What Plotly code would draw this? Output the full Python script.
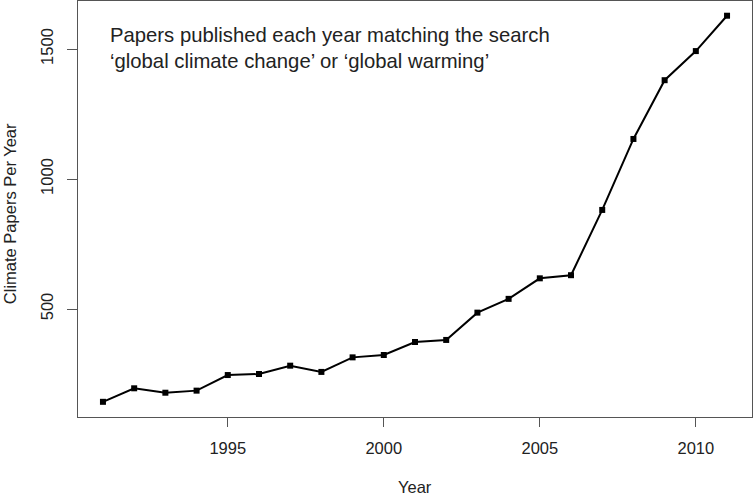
import plotly.graph_objects as go

years = list(range(1991, 2012))
papers = [143, 195, 178, 186, 246, 250, 282, 258, 314, 323, 373, 381,
          486, 539, 618, 630, 881, 1154, 1380, 1492, 1628]
x_ticks = [1995, 2000, 2005, 2010]
y_ticks = [500, 1000, 1500]

txt = "#222222"
axc = "#555555"
font = "Liberation Sans, Arial, sans-serif"

fig = go.Figure()
fig.add_trace(go.Scatter(
    x=years, y=papers, mode="lines+markers",
    line=dict(color="black", width=2),
    marker=dict(symbol="square", size=6, color="black"),
    showlegend=False,
))

fig.update_layout(
    width=754, height=501,
    margin=dict(l=78, r=2, t=1, b=84, pad=0, autoexpand=False),
    paper_bgcolor="white", plot_bgcolor="white",
    font=dict(family=font, color=txt, size=16),
    xaxis=dict(
        range=[1990.2, 2011.8], tickvals=x_ticks, ticks="outside", ticklen=9,
        tickcolor=axc, showline=True, linecolor=axc, linewidth=1, mirror=True,
        showgrid=False, zeroline=False, tickfont=dict(size=16.5, color=txt),
        automargin=False, ticklabelstandoff=7,
    ),
    yaxis=dict(
        range=[84.6, 1684.6], tickvals=y_ticks, ticks="outside", ticklen=10,
        tickcolor=axc, showline=True, linecolor=axc, linewidth=1, mirror=True,
        showgrid=False, zeroline=False, tickangle=-90, automargin=False,
        tickfont=dict(size=16.5, color=txt), ticklabelstandoff=7,
    ),
)

fig.add_annotation(
    xref="paper", yref="paper", x=0.5, y=-0.168,
    xanchor="center", yanchor="middle", showarrow=False,
    text="Year", font=dict(size=16.5, color=txt, family=font),
)
fig.add_annotation(
    xref="paper", yref="paper", x=-0.1009, y=0.49,
    xanchor="center", yanchor="middle", showarrow=False, textangle=-90,
    text="Climate Papers Per Year", font=dict(size=16.5, color=txt, family=font),
)
fig.add_annotation(
    xref="paper", yref="paper", x=0.0445, y=0.95,
    xanchor="left", yanchor="top", align="left", showarrow=False,
    text="Papers published each year matching the search<br>‘global climate change’ or ‘global warming’",
    font=dict(size=20.3, color=txt, family=font),
)

fig.write_html("out.html", config={"displayModeBar": False},
               post_script="document.body.style.margin='0';document.body.style.overflow='hidden';")
